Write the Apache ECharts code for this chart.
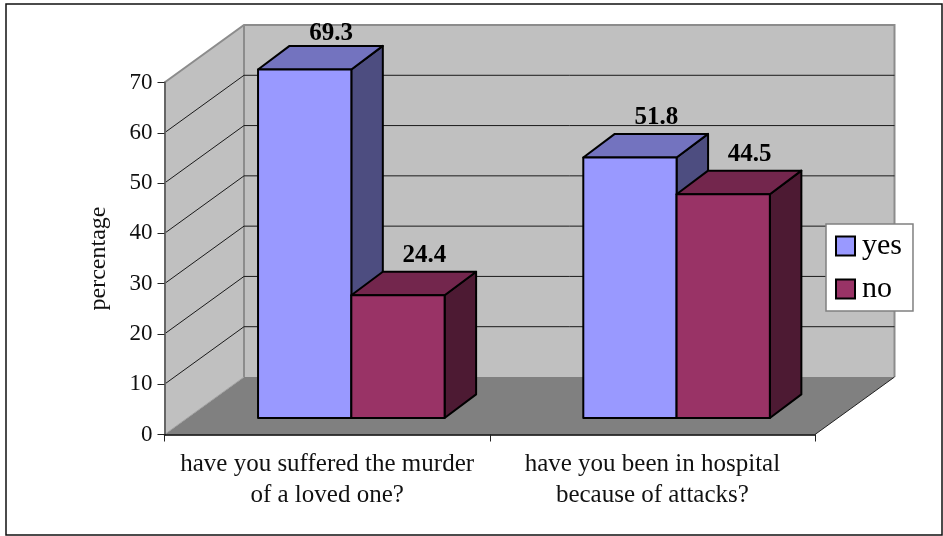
<!DOCTYPE html>
<html><head><meta charset="utf-8">
<style>html,body{margin:0;padding:0;background:#fff}#c{width:943px;height:536px}</style>
<script src="https://cdn.jsdelivr.net/npm/echarts@6/dist/echarts.min.js"></script>
</head><body><div id="c"></div>
<script>
const categories = ['have you suffered the murder\nof a loved one?', 'have you been in hospital\nbecause of attacks?'];
const yesValues = [69.3, 51.8];
const noValues = [24.4, 44.5];
const yTicks = [0, 10, 20, 30, 40, 50, 60, 70];
const FONT = '"Liberation Serif","Times New Roman",serif';
const WALL = [79.5, -57.5], DEPTH = [31.5, -23.6], GAP = [24.2, -16.5], BAR_FRAC = 0.2868;
const pts = (...a) => a;
function wallItem(params, api) {
  const s = params.coordSys, L = s.x, R = s.x + s.width, T = s.y, B = s.y + s.height;
  const [dx, dy] = WALL;
  const grey = '#8c8c8c';
  return { type: 'group', children: [
    { type: 'polygon', shape: { points: pts([L,B],[R,B],[R+dx,B+dy],[L+dx,B+dy]) }, style: { fill: '#808080' } },
    { type: 'polygon', shape: { points: pts([L,T],[L+dx,T+dy],[L+dx,B+dy],[L,B]) }, style: { fill: '#c0c0c0' } },
    { type: 'rect', shape: { x: L+dx, y: T+dy, width: s.width, height: s.height }, style: { fill: '#c0c0c0' } },
    { type: 'polyline', shape: { points: pts([L,T],[L+dx,T+dy],[R+dx,T+dy],[R+dx,B+dy]) }, style: { fill: 'none', stroke: grey, lineWidth: 2 } },
    { type: 'line', shape: { x1: L+dx, y1: T+dy, x2: L+dx, y2: B+dy }, style: { stroke: grey, lineWidth: 2 } },
    { type: 'line', shape: { x1: R, y1: B, x2: R+dx, y2: B+dy }, style: { stroke: '#222', lineWidth: 1 } },
    { type: 'line', shape: { x1: L, y1: B, x2: L+dx, y2: B+dy }, style: { stroke: '#a0a0a0', lineWidth: 1 } }
  ]};
}
function gridItem(params, api) {
  const s = params.coordSys, L = s.x, R = s.x + s.width;
  const y = api.coord([0, api.value(0)])[1];
  const [dx, dy] = WALL;
  return { type: 'polyline', shape: { points: pts([L,y],[L+dx,y+dy],[R+dx,y+dy]) }, style: { fill: 'none', stroke: '#1a1a1a', lineWidth: 1 } };
}
function barRenderer(side, front, top, right) {
  return function (params, api) {
    const val = api.value(1);
    const c = api.coord([api.value(0), val]), o = api.coord([api.value(0), 0]);
    const w = api.size([1, 0])[0] * BAR_FRAC;
    const x0 = c[0] + (side === 0 ? -w : 0) + GAP[0];
    const x1 = x0 + w, yT = c[1] + GAP[1], yB = o[1] + GAP[1];
    const [dx, dy] = DEPTH;
    const st = fill => ({ fill, stroke: '#000', lineWidth: 2, lineJoin: 'round' });
    return { type: 'group', children: [
      { type: 'polygon', shape: { points: pts([x1,yT],[x1+dx,yT+dy],[x1+dx,yB+dy],[x1,yB]) }, style: st(right) },
      { type: 'polygon', shape: { points: pts([x0,yT],[x0+dx,yT+dy],[x1+dx,yT+dy],[x1,yT]) }, style: st(top) },
      { type: 'rect', shape: { x: x0, y: yT, width: w, height: yB - yT }, style: st(front) },
      { type: 'text', x: x0 + 73, y: Math.max(yT - 40, 34), style: { text: String(val), fill: '#000', font: 'bold 25px ' + FONT, align: 'center', verticalAlign: 'middle' } }
    ]};
  };
}
const chart = echarts.init(document.getElementById('c'), null, { renderer: 'canvas' });
chart.setOption({
  animation: false,
  backgroundColor: '#fff',
  textStyle: { fontFamily: FONT },
  graphic: [{ type: 'rect', silent: true, z: -10, shape: { x: 6, y: 4, width: 936, height: 531 }, style: { fill: 'none', stroke: '#111', lineWidth: 1.5 } }],
  grid: { left: 164.5, top: 82.5, width: 650.5, height: 352 },
  legend: {
    left: 826, top: 224, orient: 'vertical', padding: [7, 11, 7, 9], itemWidth: 19, itemHeight: 19, itemGap: 13, selectedMode: false,
    backgroundColor: '#fff', borderColor: '#808080', borderWidth: 1.5,
    textStyle: { fontFamily: FONT, fontSize: 30, lineHeight: 19, color: '#000', padding: [0,0,0,2] },
    data: [
      { name: 'yes', icon: 'rect', itemStyle: { color: '#9999ff', borderColor: '#000', borderWidth: 2 } },
      { name: 'no', icon: 'rect', itemStyle: { color: '#993366', borderColor: '#000', borderWidth: 2 } }
    ]
  },
  xAxis: {
    type: 'category', data: categories, z: 3,
    axisLine: { lineStyle: { color: '#000', width: 1.5 } },
    axisTick: { show: true, alignWithLabel: false, length: 7, lineStyle: { color: '#222', width: 1 } },
    axisLabel: { color: '#111', fontFamily: FONT, fontSize: 25, lineHeight: 31, margin: 14, interval: 0 },
    splitLine: { show: false }
  },
  yAxis: {
    type: 'value', min: 0, max: 70, interval: 10, z: 3,
    name: 'percentage', nameLocation: 'middle', nameRotate: 90, nameGap: 54,
    nameTextStyle: { fontFamily: FONT, fontSize: 24, color: '#111' },
    axisLine: { show: true, lineStyle: { color: '#666', width: 2 } },
    axisTick: { show: true, length: 7, lineStyle: { color: '#222', width: 1 } },
    axisLabel: { color: '#111', fontFamily: FONT, fontSize: 23, margin: 12, padding: [3, 0, 0, 0] },
    splitLine: { show: false }
  },
  series: [
    { type: 'custom', name: 'walls', silent: true, z: 1, clip: false, data: [[0]], renderItem: wallItem, legendHoverLink: false },
    { type: 'custom', name: 'gridlines', silent: true, z: 2, clip: false, data: yTicks.slice(1, -1).map(v => [v]), encode: { y: 0 }, renderItem: gridItem },
    { type: 'custom', name: 'yes', z: 5, clip: false, itemStyle: { color: '#9999ff' }, encode: { x: 0, y: 1 },
      data: yesValues.map((v, i) => [i, v]), renderItem: barRenderer(0, '#9999ff', '#7373bf', '#4d4d80') },
    { type: 'custom', name: 'no', z: 6, clip: false, itemStyle: { color: '#993366' }, encode: { x: 0, y: 1 },
      data: noValues.map((v, i) => [i, v]), renderItem: barRenderer(1, '#993366', '#73264d', '#4d1a33') }
  ]
});
</script></body></html>
